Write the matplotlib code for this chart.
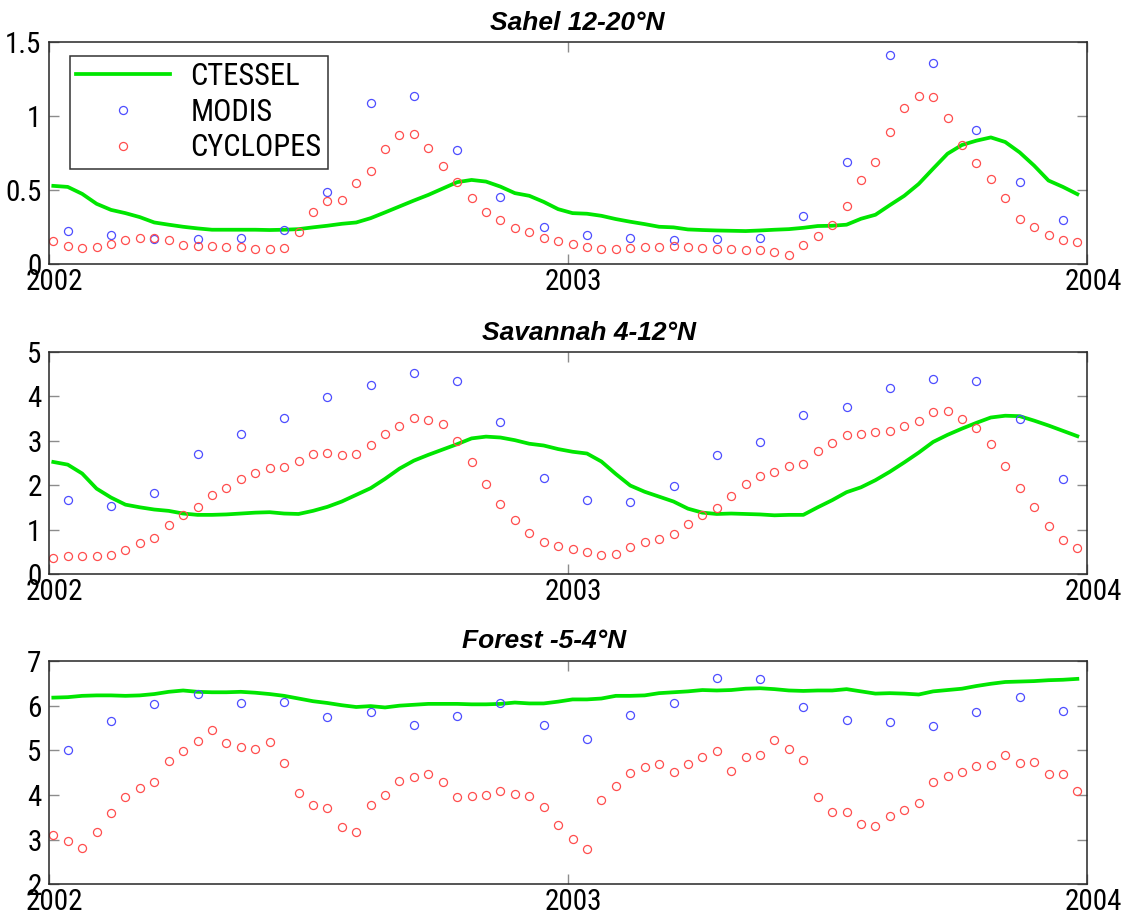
import numpy as np
import matplotlib
matplotlib.use("Agg")
import matplotlib.pyplot as plt
from matplotlib import font_manager
from matplotlib.ticker import FormatStrFormatter
from matplotlib.transforms import ScaledTranslation

# =========================
# 1. data: 10-day CTESSEL / CYCLOPES, monthly MODIS, 2002-2003
# =========================
dekad_time = 2002 + (np.arange(72) + 1 / 3) / 36
month_time = dekad_time[1::3]

sahel_ctessel = [0.527, 0.52, 0.473, 0.406, 0.365, 0.343, 0.316, 0.28, 0.265, 0.251, 0.24, 0.231,
                 0.231, 0.231, 0.231, 0.229, 0.231, 0.235, 0.247, 0.258, 0.271, 0.28, 0.309, 0.348,
                 0.388, 0.428, 0.466, 0.509, 0.552, 0.567, 0.556, 0.522, 0.478, 0.46, 0.419, 0.37,
                 0.343, 0.339, 0.325, 0.303, 0.285, 0.269, 0.251, 0.247, 0.233, 0.229, 0.226, 0.224,
                 0.222, 0.226, 0.231, 0.235, 0.244, 0.256, 0.258, 0.265, 0.305, 0.332, 0.397, 0.46,
                 0.54, 0.643, 0.744, 0.803, 0.832, 0.854, 0.823, 0.753, 0.664, 0.563, 0.52, 0.471]
sahel_cyclopes = [0.155, 0.123, 0.11, 0.114, 0.135, 0.164, 0.177, 0.173, 0.159, 0.126, 0.121, 0.119,
                  0.112, 0.112, 0.103, 0.099, 0.105, 0.215, 0.352, 0.424, 0.43, 0.547, 0.628, 0.776,
                  0.868, 0.879, 0.785, 0.664, 0.554, 0.442, 0.35, 0.30, 0.242, 0.213, 0.173, 0.155,
                  0.135, 0.114, 0.099, 0.103, 0.108, 0.114, 0.112, 0.119, 0.117, 0.105, 0.101, 0.101,
                  0.094, 0.094, 0.083, 0.061, 0.126, 0.188, 0.26, 0.388, 0.565, 0.688, 0.892, 1.054,
                  1.135, 1.126, 0.984, 0.803, 0.682, 0.572, 0.446, 0.305, 0.249, 0.193, 0.164, 0.146]
sahel_modis = [0.22, 0.195, 0.17, 0.166, 0.173, 0.226, 0.484, 1.085, 1.135, 0.767, 0.451, 0.247,
               0.195, 0.177, 0.164, 0.17, 0.175, 0.327, 0.69, 1.408, 1.357, 0.904, 0.554, 0.294]

savannah_ctessel = [2.52, 2.46, 2.26, 1.92, 1.72, 1.56, 1.50, 1.45, 1.42, 1.36, 1.33, 1.33,
                    1.34, 1.36, 1.38, 1.39, 1.36, 1.35, 1.42, 1.51, 1.63, 1.78, 1.93, 2.14,
                    2.37, 2.55, 2.68, 2.80, 2.92, 3.05, 3.09, 3.07, 3.01, 2.93, 2.89, 2.81,
                    2.75, 2.71, 2.53, 2.25, 1.99, 1.85, 1.74, 1.63, 1.47, 1.38, 1.35, 1.36,
                    1.35, 1.34, 1.32, 1.33, 1.33, 1.50, 1.66, 1.84, 1.95, 2.11, 2.30, 2.51,
                    2.73, 2.97, 3.13, 3.27, 3.40, 3.52, 3.56, 3.55, 3.45, 3.34, 3.22, 3.10]
savannah_cyclopes = [0.37, 0.41, 0.40, 0.40, 0.43, 0.55, 0.69, 0.80, 1.10, 1.32, 1.50, 1.78,
                     1.93, 2.14, 2.28, 2.38, 2.40, 2.54, 2.71, 2.73, 2.67, 2.70, 2.90, 3.15,
                     3.33, 3.50, 3.46, 3.37, 2.99, 2.52, 2.02, 1.58, 1.21, 0.93, 0.71, 0.63,
                     0.57, 0.49, 0.43, 0.45, 0.60, 0.71, 0.78, 0.90, 1.12, 1.33, 1.48, 1.75,
                     2.03, 2.21, 2.30, 2.42, 2.47, 2.76, 2.95, 3.12, 3.15, 3.19, 3.22, 3.33,
                     3.45, 3.64, 3.66, 3.49, 3.29, 2.92, 2.42, 1.94, 1.51, 1.09, 0.77, 0.58]
savannah_modis = [1.66, 1.52, 1.82, 2.71, 3.16, 3.52, 3.97, 4.24, 4.51, 4.33, 3.43, 2.16,
                  1.66, 1.63, 1.99, 2.67, 2.97, 3.57, 3.76, 4.19, 4.38, 4.34, 3.49, 2.14]

forest_ctessel = [6.18, 6.19, 6.22, 6.23, 6.23, 6.22, 6.23, 6.26, 6.31, 6.34, 6.31, 6.30,
                  6.30, 6.31, 6.29, 6.26, 6.22, 6.16, 6.10, 6.06, 6.01, 5.97, 5.99, 5.96,
                  6.00, 6.02, 6.04, 6.04, 6.04, 6.03, 6.03, 6.04, 6.07, 6.05, 6.05, 6.09,
                  6.14, 6.14, 6.16, 6.22, 6.22, 6.23, 6.28, 6.30, 6.32, 6.35, 6.34, 6.35,
                  6.38, 6.39, 6.37, 6.34, 6.33, 6.34, 6.34, 6.37, 6.32, 6.27, 6.28, 6.27,
                  6.25, 6.32, 6.35, 6.38, 6.44, 6.49, 6.53, 6.54, 6.55, 6.57, 6.58, 6.60]
forest_cyclopes = [3.11, 2.98, 2.82, 3.16, 3.59, 3.95, 4.15, 4.28, 4.76, 4.99, 5.21, 5.45,
                   5.16, 5.07, 5.03, 5.18, 4.72, 4.05, 3.77, 3.71, 3.28, 3.17, 3.78, 4.01,
                   4.31, 4.41, 4.47, 4.29, 3.96, 3.97, 4.01, 4.08, 4.03, 3.98, 3.74, 3.33,
                   3.01, 2.80, 3.89, 4.19, 4.49, 4.63, 4.69, 4.51, 4.70, 4.85, 4.99, 4.54,
                   4.85, 4.90, 5.24, 5.04, 4.78, 3.95, 3.63, 3.61, 3.34, 3.31, 3.53, 3.67,
                   3.83, 4.28, 4.42, 4.52, 4.66, 4.67, 4.90, 4.71, 4.74, 4.46, 4.46, 4.08]
forest_modis = [5.01, 5.66, 6.04, 6.27, 6.05, 6.09, 5.75, 5.85, 5.57, 5.76, 6.07, 5.56,
                5.25, 5.80, 6.07, 6.63, 6.59, 5.98, 5.67, 5.63, 5.54, 5.86, 6.19, 5.87]

titles = ["Sahel 12-20°N", "Savannah 4-12°N", "Forest -5-4°N"]
title_x = [0.509, 0.52, 0.477]
ylims = [(0, 1.5), (0, 5), (2, 7)]
yticks = [[0, 0.5, 1, 1.5], [0, 1, 2, 3, 4, 5], [2, 3, 4, 5, 6, 7]]
xticks = [2002, 2003, 2004]

# =========================
# 2. fonts (a narrow face if one is there, else Arial-like)
# =========================
installed = {f.name for f in font_manager.fontManager.ttflist}
if "Liberation Sans Narrow" in installed:
    num_font = ["Liberation Sans Narrow", "DejaVu Sans"]
    tick_size, leg_size = 21, 22
elif "Roboto Condensed" in installed:
    num_font = ["Roboto Condensed", "DejaVu Sans"]
    tick_size, leg_size = 21, 22
else:
    num_font = ["Liberation Sans", "DejaVu Sans"]
    tick_size, leg_size = 19, 19
plt.rcParams["font.family"] = num_font

green = "#00e600"
blue = "#4d4dff"
red = "#ff4d4d"

# =========================
# 3. figure
# =========================
fig = plt.figure(figsize=(11.24, 9.14), dpi=100)
boxes = [[0.04315, 0.7112, 0.9239, 0.2432],
         [0.04315, 0.3720, 0.9239, 0.2432],
         [0.04315, 0.0325, 0.9239, 0.2443]]
series = [(sahel_ctessel, sahel_modis, sahel_cyclopes),
          (savannah_ctessel, savannah_modis, savannah_cyclopes),
          (forest_ctessel, forest_modis, forest_cyclopes)]
title_pads = [8.4, 8.4, 9.3]

shift = ScaledTranslation(0.06, -0.01, fig.dpi_scale_trans)

for i, (ctessel, modis, cyclopes) in enumerate(series):
    ax = fig.add_axes(boxes[i])
    ax.plot(dekad_time, ctessel, color=green, lw=2.7, label="CTESSEL")
    ax.plot(month_time, modis, ls="none", marker="o", ms=5.8, mfc="none",
            mec=blue, mew=0.9, label="MODIS")
    ax.plot(dekad_time, cyclopes, ls="none", marker="o", ms=5.8, mfc="none",
            mec=red, mew=0.9, label="CYCLOPES")

    ax.set_xlim(2002, 2004)
    ax.set_ylim(*ylims[i])
    ax.set_xticks(xticks)
    ax.set_xticklabels([str(t) for t in xticks])
    ax.set_yticks(yticks[i])
    ax.yaxis.set_major_formatter(FormatStrFormatter("%g"))
    ax.tick_params(direction="in", length=7.5, width=1.0, color="0.55",
                   top=True, right=True, labelsize=tick_size)
    ax.tick_params(axis="x", pad=2)
    ax.tick_params(axis="y", pad=5)
    for lab in ax.get_xticklabels():
        lab.set_transform(lab.get_transform() + shift)
    for sp in ax.spines.values():
        sp.set_color("0.15")
        sp.set_linewidth(1.1)

    ax.annotate(titles[i], xy=(title_x[i], 1), xycoords="axes fraction",
                xytext=(0, title_pads[i]), textcoords="offset points",
                ha="center", va="baseline", fontsize=19, fontweight="bold",
                fontstyle="italic", family=["Liberation Sans", "DejaVu Sans"])

    if i == 0:
        leg = ax.legend(loc="upper left", bbox_to_anchor=(0.021, 0.936),
                        borderaxespad=0, fontsize=leg_size, handlelength=3.05,
                        handletextpad=0.68, labelspacing=0.22, borderpad=0.2,
                        fancybox=False, framealpha=1)
        leg.get_frame().set_edgecolor("0.2")
        leg.get_frame().set_linewidth(1.1)

fig.savefig("out.png", dpi=100)
